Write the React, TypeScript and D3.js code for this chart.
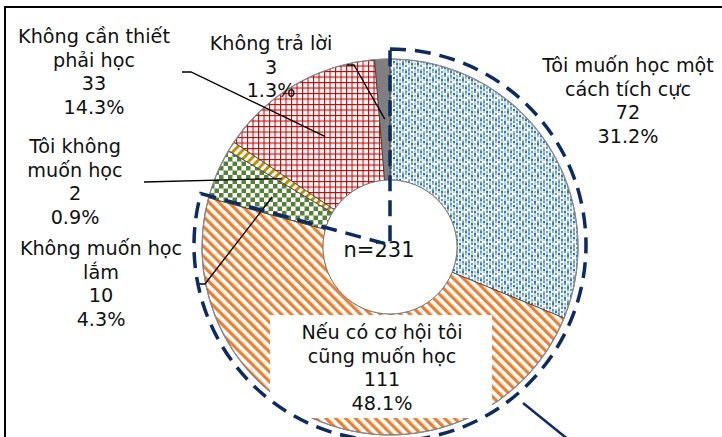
import React from "react";
import * as d3 from "d3";

// ---- data ----
const categories = [
  "Tôi muốn học một cách tích cực",
  "Nếu có cơ hội tôi cũng muốn học",
  "Không muốn học lắm",
  "Tôi không muốn học",
  "Không cần thiết phải học",
  "Không trả lời",
];
const counts = [72, 111, 10, 2, 33, 3];
const percentLabels = ["31.2%", "48.1%", "4.3%", "0.9%", "14.3%", "1.3%"];
const labelLines = [
  ["Tôi muốn học một", "cách tích cực"],
  ["Nếu có cơ hội tôi", "cũng muốn học"],
  ["Không muốn học", "lắm"],
  ["Tôi không", "muốn học"],
  ["Không cần thiết", "phải học"],
  ["Không trả lời"],
];
const totalLabel = "n=231";

// ---- layout / style ----
const W = 722;
const H = 437;
const CX = 390;
const CY = 247;
const R_OUT = 188;
const R_IN = 67;
const LEADER_R = 128;
const FONT = "'DejaVu Sans', sans-serif";
const FS = 19.2;
const LH = 23.5;
const NAVY = "#0B2A66";
const fills = ["url(#pBlue)", "url(#pOrange)", "url(#pGreen)", "url(#pGold)", "url(#pRed)", "#7F7F7F"];
// label anchor: centre x, first baseline y
const labelPos: [number, number][] = [
  [628, 72],
  [382, 339],
  [101, 255],
  [75, 153],
  [94, 43],
  [271, 50],
];
// leader start points (label side) - null when no leader
const leaderStart: ([number, number][] | null)[] = [
  null,
  null,
  [[197, 284], [205, 284]],
  [[144, 182]],
  [[182, 72], [191, 72]],
  [[347, 65], [354, 65]],
];

const blueShades = ["#2E75B6", "#5B9BD5", "#8FBBE4", "#B4D2EE", "#D6E7F7", "#FFFFFF"];
const blueCells = [
  [0, 2, 1, 3, 2],
  [3, 1, 4, 0, 5],
  [1, 4, 2, 1, 3],
  [2, 0, 3, 5, 1],
  [4, 3, 0, 2, 0],
  [1, 5, 2, 4, 2],
  [5, 2, 1, 0, 4],
  [2, 1, 5, 3, 1],
];

export default function App() {
  const pie = d3.pie<number>().sort(null).value((d) => d).startAngle(0).endAngle(2 * Math.PI);
  const arcs = pie(counts);
  const arcGen = d3.arc<d3.PieArcDatum<number>>().innerRadius(R_IN).outerRadius(R_OUT);
  const leaderArc = d3.arc<d3.PieArcDatum<number>>().innerRadius(LEADER_R).outerRadius(LEADER_R);
  const wantEnd = arcs[1].endAngle;
  const dashedPath = d3.arc()({ innerRadius: 0, outerRadius: 196, startAngle: 0, endAngle: wantEnd } as any) as string;

  return (
    <svg width={W} height={H} style={{ position: "absolute", left: 0, top: 0, background: "#fff" }}>
      <defs>
        <pattern id="pBlue" patternUnits="userSpaceOnUse" width={15} height={16}>
          <rect width={15} height={16} fill="#fff" />
          {blueCells.map((row, ri) =>
            row.map((s, ci) => (
              <rect key={ri + "-" + ci} x={ci * 3} y={ri * 2} width={2} height={2} fill={blueShades[s]} />
            ))
          )}
        </pattern>
        <pattern id="pOrange" patternUnits="userSpaceOnUse" width={7} height={7} patternTransform="rotate(-45)">
          <rect width={7} height={7} fill="#fff" />
          <rect width={3.3} height={7} fill="#F07F2D" />
        </pattern>
        <pattern id="pGold" patternUnits="userSpaceOnUse" width={6} height={6} patternTransform="rotate(45)">
          <rect width={6} height={6} fill="#fff" />
          <rect width={3} height={6} fill="#BF9000" />
        </pattern>
        <pattern id="pGreen" patternUnits="userSpaceOnUse" width={9} height={9}>
          <rect width={9} height={9} fill="#fff" />
          <rect width={4.5} height={4.5} fill="#548235" />
          <rect x={4.5} y={4.5} width={4.5} height={4.5} fill="#548235" />
        </pattern>
        <pattern id="pRed" patternUnits="userSpaceOnUse" width={5.5} height={5.5}>
          <rect width={5.5} height={5.5} fill="#fff" />
          <rect width={1.1} height={5.5} fill="#D00000" />
          <rect width={5.5} height={1.1} fill="#D00000" />
        </pattern>
      </defs>

      <rect x={5} y={7} width={740} height={460} fill="#fff" stroke="#000" strokeWidth={2} />

      <g transform={`translate(${CX},${CY})`}>
        {arcs.map((a, i) => (
          <path key={i} d={arcGen(a) as string} fill={fills[i]} stroke="#3a3a3a" strokeWidth={0.8} />
        ))}
        <circle r={R_OUT} fill="none" stroke="#8c8c8c" strokeWidth={1.2} />
        <circle r={R_IN} fill="#fff" stroke="#7a7a7a" strokeWidth={1} />
      </g>

      {/* white box behind bottom label */}
      <rect x={270} y={315} width={222} height={103} fill="#fff" />

      {/* leader lines */}
      {arcs.map((a, i) => {
        const st = leaderStart[i];
        if (!st) return null;
        const [ex, ey] = leaderArc.centroid(a);
        const pts = [...st, [CX + ex, CY + ey]];
        return (
          <polyline
            key={"l" + i}
            points={pts.map((p) => p.join(",")).join(" ")}
            fill="none"
            stroke="#000"
            strokeWidth={1.3}
          />
        );
      })}

      {/* labels */}
      {categories.map((c, i) => {
        const [x, y] = labelPos[i];
        const lines = [...labelLines[i], String(counts[i]), percentLabels[i]];
        return (
          <text key={"t" + i} x={x} y={y} textAnchor="middle" fontFamily={FONT} fontSize={FS} fill="#111">
            {lines.map((ln, j) => (
              <tspan key={j} x={x} y={y + j * LH}>
                {ln}
              </tspan>
            ))}
          </text>
        );
      })}

      <text x={379} y={257} textAnchor="middle" fontFamily={FONT} fontSize={21} fill="#111">
        {totalLabel}
      </text>

      {/* dashed highlight of "want to learn" group */}
      <path
        d={dashedPath}
        transform={`translate(${CX},${CY - 2})`}
        fill="none"
        stroke={NAVY}
        strokeWidth={3.5}
        strokeDasharray="16 9"
      />
      <line x1={523} y1={403} x2={575} y2={445} stroke={NAVY} strokeWidth={2.5} />
    </svg>
  );
}
